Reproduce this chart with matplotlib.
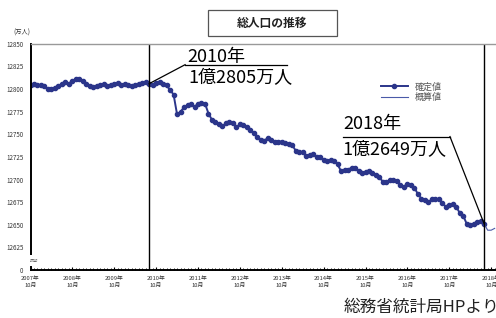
import numpy as np
import matplotlib
matplotlib.use("Agg")
import matplotlib.pyplot as plt
from matplotlib.patches import Rectangle

plt.rcParams['font.family'] = ['Noto Sans CJK JP', 'DejaVu Sans']

# 月次の総人口（万人）: 2007年10月から
kakutei = [12805, 12806, 12805, 12804, 12803, 12800, 12800, 12801, 12803, 12806,
           12808, 12806, 12809, 12811, 12811, 12809, 12806, 12803, 12802, 12803,
           12804, 12806, 12803, 12805, 12806, 12807, 12805, 12806, 12804, 12803,
           12805, 12806, 12807, 12808, 12806, 12805, 12807, 12808, 12806, 12804,
           12799, 12794, 12772, 12775, 12780, 12782, 12784, 12780, 12784, 12785,
           12784, 12773, 12766, 12764, 12761, 12759, 12762, 12764, 12763, 12758,
           12761, 12760, 12758, 12755, 12751, 12747, 12744, 12743, 12746, 12744,
           12741, 12742, 12742, 12740, 12739, 12738, 12732, 12730, 12730, 12726,
           12727, 12728, 12725, 12725, 12722, 12720, 12722, 12720, 12717, 12709,
           12710, 12711, 12713, 12713, 12709, 12707, 12708, 12709, 12707, 12705,
           12703, 12697, 12697, 12699, 12700, 12698, 12694, 12692, 12695, 12694,
           12691, 12684, 12679, 12677, 12675, 12678, 12679, 12678, 12674, 12670,
           12672, 12673, 12670, 12663, 12660, 12651, 12650, 12651, 12653, 12654,
           12651]
gaisan = [12651, 12644, 12644, 12646]

years = ['2007', '2008', '2009', '2010', '2011', '2012', '2013', '2014',
         '2015', '2016', '2017', '2018']
yticks = [12600, 12625, 12650, 12675, 12700, 12725, 12750, 12775, 12800, 12825, 12850]
ytick_labels = ['0'] + [str(v) for v in yticks[1:]]

m_k = np.arange(len(kakutei))
m_g = np.arange(len(kakutei) - 1, len(kakutei) - 1 + len(gaisan))
i2010 = 34
i2018 = 130

fig = plt.figure(figsize=(4.96, 3.18), dpi=100)
ax = fig.add_axes([0.0615, 0.151, 0.985, 0.711])

navy = '#2b358a'
ax.plot(m_k, kakutei, color=navy, lw=1.4, marker='o', ms=3.0, label='確定値')
ax.plot(m_g, gaisan, color='#4a5aa8', lw=0.8, label='概算値')

ax.axvline(i2010, color='black', lw=1.0)
ax.axvline(i2018, color='black', lw=1.0)

ax.set_xlim(0, 140)
ax.set_ylim(12600, 12850)

ax.set_xticks(np.arange(0, 12 * len(years), 12))
ax.set_xticklabels([f'{y}年\n10月' for y in years], fontsize=4.2, color='#333333',
                   linespacing=1.5)
ax.set_xticks(np.arange(0, 140, 1), minor=True)
ax.tick_params(axis='x', which='major', direction='in', length=2, pad=4)
ax.tick_params(axis='x', which='minor', direction='in', length=1.2, width=0.6)
ax.set_yticks(yticks)
ax.set_yticklabels(ytick_labels, fontsize=4.5, color='#333333')
ax.tick_params(axis='y', direction='in', length=0, pad=5)

for s in ['left', 'bottom']:
    ax.spines[s].set_linewidth(1.4)
ax.spines['top'].set_color('#999999')
ax.spines['top'].set_linewidth(1.0)
ax.spines['right'].set_visible(False)

# 省略記号
ax.text(0.8, 12610, '≈', fontsize=8, color='#555555', ha='center', va='center',
        family='DejaVu Sans',
        bbox=dict(boxstyle='square,pad=0.05', fc='white', ec='none'))

# 注記 2010年
ax.plot([44.3, 73.5], [12827, 12827], color='black', lw=0.9)
ax.plot([44.3, i2010], [12827, kakutei[i2010]], color='black', lw=0.9)
ax.text(44.8, 12836, '2010年', fontsize=13, ha='left', va='center')
ax.text(45.1, 12812, '1億2805万人', fontsize=13, ha='left', va='center')

# 注記 2018年
ax.plot([89.5, 120.2], [12747.5, 12747.5], color='black', lw=0.9)
ax.plot([120.2, i2018], [12747.5, kakutei[i2018]], color='black', lw=0.9)
ax.text(89.5, 12761, '2018年', fontsize=13, ha='left', va='center')
ax.text(89.5, 12733, '1億2649万人', fontsize=13, ha='left', va='center')

ax.legend(loc='upper left', bbox_to_anchor=(0.708, 0.85), frameon=False,
          fontsize=6.5, handlelength=3.0, labelspacing=0.2, borderpad=0,
          labelcolor='#555555')

# タイトル
fig.patches.append(Rectangle((208 / 496, 1 - 36 / 318), 129 / 496, 26 / 318,
                             transform=fig.transFigure, fill=False,
                             ec='#555555', lw=0.9))
fig.text(272.5 / 496, 1 - 23 / 318, '総人口の推移', fontsize=8.5, fontweight='bold',
         ha='center', va='center', color='#222222')
fig.text(13 / 496, 1 - 33 / 318, '(万人)', fontsize=4.5, ha='left', va='center',
         color='#333333')
fig.text(344 / 496, 1 - 307 / 318, '総務省統計局HPより', fontsize=12,
         ha='left', va='center', color='#222222')

plt.savefig('out.png', dpi=100)
plt.close()
